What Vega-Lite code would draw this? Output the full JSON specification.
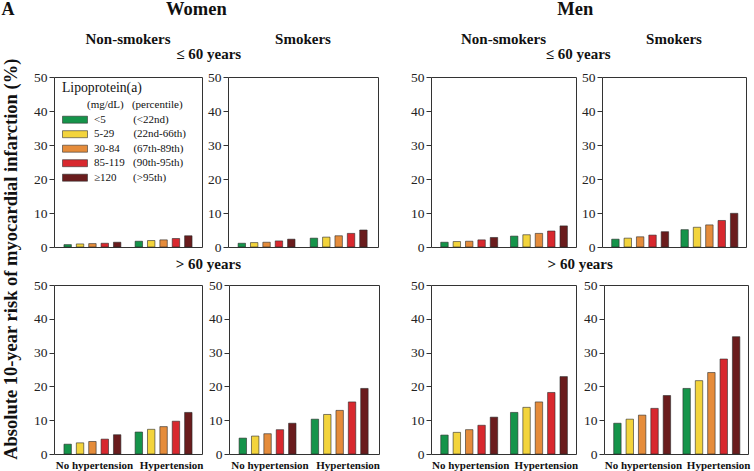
{
  "$schema": "https://vega.github.io/schema/vega-lite/v6.json",
  "padding": {"left": 1, "top": 0, "right": 0, "bottom": 1},
  "datasets": {
    "risk": [
      {"sex": "Women", "age": "le60", "smoker": "Non-smokers", "ht": "No hypertension", "lpa": "<5", "risk": 0.7},
      {"sex": "Women", "age": "le60", "smoker": "Non-smokers", "ht": "No hypertension", "lpa": "5-29", "risk": 0.9},
      {"sex": "Women", "age": "le60", "smoker": "Non-smokers", "ht": "No hypertension", "lpa": "30-84", "risk": 1.0},
      {"sex": "Women", "age": "le60", "smoker": "Non-smokers", "ht": "No hypertension", "lpa": "85-119", "risk": 1.1},
      {"sex": "Women", "age": "le60", "smoker": "Non-smokers", "ht": "No hypertension", "lpa": "≥120", "risk": 1.4},
      {"sex": "Women", "age": "le60", "smoker": "Non-smokers", "ht": "Hypertension", "lpa": "<5", "risk": 1.7},
      {"sex": "Women", "age": "le60", "smoker": "Non-smokers", "ht": "Hypertension", "lpa": "5-29", "risk": 1.9},
      {"sex": "Women", "age": "le60", "smoker": "Non-smokers", "ht": "Hypertension", "lpa": "30-84", "risk": 2.1},
      {"sex": "Women", "age": "le60", "smoker": "Non-smokers", "ht": "Hypertension", "lpa": "85-119", "risk": 2.5},
      {"sex": "Women", "age": "le60", "smoker": "Non-smokers", "ht": "Hypertension", "lpa": "≥120", "risk": 3.3},
      {"sex": "Women", "age": "le60", "smoker": "Smokers", "ht": "No hypertension", "lpa": "<5", "risk": 1.1},
      {"sex": "Women", "age": "le60", "smoker": "Smokers", "ht": "No hypertension", "lpa": "5-29", "risk": 1.3},
      {"sex": "Women", "age": "le60", "smoker": "Smokers", "ht": "No hypertension", "lpa": "30-84", "risk": 1.4},
      {"sex": "Women", "age": "le60", "smoker": "Smokers", "ht": "No hypertension", "lpa": "85-119", "risk": 1.8},
      {"sex": "Women", "age": "le60", "smoker": "Smokers", "ht": "No hypertension", "lpa": "≥120", "risk": 2.3},
      {"sex": "Women", "age": "le60", "smoker": "Smokers", "ht": "Hypertension", "lpa": "<5", "risk": 2.6},
      {"sex": "Women", "age": "le60", "smoker": "Smokers", "ht": "Hypertension", "lpa": "5-29", "risk": 2.9},
      {"sex": "Women", "age": "le60", "smoker": "Smokers", "ht": "Hypertension", "lpa": "30-84", "risk": 3.3},
      {"sex": "Women", "age": "le60", "smoker": "Smokers", "ht": "Hypertension", "lpa": "85-119", "risk": 4.0},
      {"sex": "Women", "age": "le60", "smoker": "Smokers", "ht": "Hypertension", "lpa": "≥120", "risk": 5.0},
      {"sex": "Women", "age": "gt60", "smoker": "Non-smokers", "ht": "No hypertension", "lpa": "<5", "risk": 2.9},
      {"sex": "Women", "age": "gt60", "smoker": "Non-smokers", "ht": "No hypertension", "lpa": "5-29", "risk": 3.3},
      {"sex": "Women", "age": "gt60", "smoker": "Non-smokers", "ht": "No hypertension", "lpa": "30-84", "risk": 3.7},
      {"sex": "Women", "age": "gt60", "smoker": "Non-smokers", "ht": "No hypertension", "lpa": "85-119", "risk": 4.4},
      {"sex": "Women", "age": "gt60", "smoker": "Non-smokers", "ht": "No hypertension", "lpa": "≥120", "risk": 5.7},
      {"sex": "Women", "age": "gt60", "smoker": "Non-smokers", "ht": "Hypertension", "lpa": "<5", "risk": 6.5},
      {"sex": "Women", "age": "gt60", "smoker": "Non-smokers", "ht": "Hypertension", "lpa": "5-29", "risk": 7.3},
      {"sex": "Women", "age": "gt60", "smoker": "Non-smokers", "ht": "Hypertension", "lpa": "30-84", "risk": 8.1},
      {"sex": "Women", "age": "gt60", "smoker": "Non-smokers", "ht": "Hypertension", "lpa": "85-119", "risk": 9.7},
      {"sex": "Women", "age": "gt60", "smoker": "Non-smokers", "ht": "Hypertension", "lpa": "≥120", "risk": 12.3},
      {"sex": "Women", "age": "gt60", "smoker": "Smokers", "ht": "No hypertension", "lpa": "<5", "risk": 4.7},
      {"sex": "Women", "age": "gt60", "smoker": "Smokers", "ht": "No hypertension", "lpa": "5-29", "risk": 5.3},
      {"sex": "Women", "age": "gt60", "smoker": "Smokers", "ht": "No hypertension", "lpa": "30-84", "risk": 6.0},
      {"sex": "Women", "age": "gt60", "smoker": "Smokers", "ht": "No hypertension", "lpa": "85-119", "risk": 7.2},
      {"sex": "Women", "age": "gt60", "smoker": "Smokers", "ht": "No hypertension", "lpa": "≥120", "risk": 9.1},
      {"sex": "Women", "age": "gt60", "smoker": "Smokers", "ht": "Hypertension", "lpa": "<5", "risk": 10.3},
      {"sex": "Women", "age": "gt60", "smoker": "Smokers", "ht": "Hypertension", "lpa": "5-29", "risk": 11.7},
      {"sex": "Women", "age": "gt60", "smoker": "Smokers", "ht": "Hypertension", "lpa": "30-84", "risk": 12.9},
      {"sex": "Women", "age": "gt60", "smoker": "Smokers", "ht": "Hypertension", "lpa": "85-119", "risk": 15.4},
      {"sex": "Women", "age": "gt60", "smoker": "Smokers", "ht": "Hypertension", "lpa": "≥120", "risk": 19.4},
      {"sex": "Men", "age": "le60", "smoker": "Non-smokers", "ht": "No hypertension", "lpa": "<5", "risk": 1.4},
      {"sex": "Men", "age": "le60", "smoker": "Non-smokers", "ht": "No hypertension", "lpa": "5-29", "risk": 1.6},
      {"sex": "Men", "age": "le60", "smoker": "Non-smokers", "ht": "No hypertension", "lpa": "30-84", "risk": 1.7},
      {"sex": "Men", "age": "le60", "smoker": "Non-smokers", "ht": "No hypertension", "lpa": "85-119", "risk": 2.1},
      {"sex": "Men", "age": "le60", "smoker": "Non-smokers", "ht": "No hypertension", "lpa": "≥120", "risk": 2.8},
      {"sex": "Men", "age": "le60", "smoker": "Non-smokers", "ht": "Hypertension", "lpa": "<5", "risk": 3.2},
      {"sex": "Men", "age": "le60", "smoker": "Non-smokers", "ht": "Hypertension", "lpa": "5-29", "risk": 3.6},
      {"sex": "Men", "age": "le60", "smoker": "Non-smokers", "ht": "Hypertension", "lpa": "30-84", "risk": 4.0},
      {"sex": "Men", "age": "le60", "smoker": "Non-smokers", "ht": "Hypertension", "lpa": "85-119", "risk": 4.7},
      {"sex": "Men", "age": "le60", "smoker": "Non-smokers", "ht": "Hypertension", "lpa": "≥120", "risk": 6.2},
      {"sex": "Men", "age": "le60", "smoker": "Smokers", "ht": "No hypertension", "lpa": "<5", "risk": 2.3},
      {"sex": "Men", "age": "le60", "smoker": "Smokers", "ht": "No hypertension", "lpa": "5-29", "risk": 2.6},
      {"sex": "Men", "age": "le60", "smoker": "Smokers", "ht": "No hypertension", "lpa": "30-84", "risk": 3.0},
      {"sex": "Men", "age": "le60", "smoker": "Smokers", "ht": "No hypertension", "lpa": "85-119", "risk": 3.5},
      {"sex": "Men", "age": "le60", "smoker": "Smokers", "ht": "No hypertension", "lpa": "≥120", "risk": 4.5},
      {"sex": "Men", "age": "le60", "smoker": "Smokers", "ht": "Hypertension", "lpa": "<5", "risk": 5.1},
      {"sex": "Men", "age": "le60", "smoker": "Smokers", "ht": "Hypertension", "lpa": "5-29", "risk": 5.8},
      {"sex": "Men", "age": "le60", "smoker": "Smokers", "ht": "Hypertension", "lpa": "30-84", "risk": 6.5},
      {"sex": "Men", "age": "le60", "smoker": "Smokers", "ht": "Hypertension", "lpa": "85-119", "risk": 7.8},
      {"sex": "Men", "age": "le60", "smoker": "Smokers", "ht": "Hypertension", "lpa": "≥120", "risk": 9.9},
      {"sex": "Men", "age": "gt60", "smoker": "Non-smokers", "ht": "No hypertension", "lpa": "<5", "risk": 5.6},
      {"sex": "Men", "age": "gt60", "smoker": "Non-smokers", "ht": "No hypertension", "lpa": "5-29", "risk": 6.4},
      {"sex": "Men", "age": "gt60", "smoker": "Non-smokers", "ht": "No hypertension", "lpa": "30-84", "risk": 7.2},
      {"sex": "Men", "age": "gt60", "smoker": "Non-smokers", "ht": "No hypertension", "lpa": "85-119", "risk": 8.5},
      {"sex": "Men", "age": "gt60", "smoker": "Non-smokers", "ht": "No hypertension", "lpa": "≥120", "risk": 10.9},
      {"sex": "Men", "age": "gt60", "smoker": "Non-smokers", "ht": "Hypertension", "lpa": "<5", "risk": 12.3},
      {"sex": "Men", "age": "gt60", "smoker": "Non-smokers", "ht": "Hypertension", "lpa": "5-29", "risk": 13.8},
      {"sex": "Men", "age": "gt60", "smoker": "Non-smokers", "ht": "Hypertension", "lpa": "30-84", "risk": 15.4},
      {"sex": "Men", "age": "gt60", "smoker": "Non-smokers", "ht": "Hypertension", "lpa": "85-119", "risk": 18.2},
      {"sex": "Men", "age": "gt60", "smoker": "Non-smokers", "ht": "Hypertension", "lpa": "≥120", "risk": 22.9},
      {"sex": "Men", "age": "gt60", "smoker": "Smokers", "ht": "No hypertension", "lpa": "<5", "risk": 9.1},
      {"sex": "Men", "age": "gt60", "smoker": "Smokers", "ht": "No hypertension", "lpa": "5-29", "risk": 10.3},
      {"sex": "Men", "age": "gt60", "smoker": "Smokers", "ht": "No hypertension", "lpa": "30-84", "risk": 11.5},
      {"sex": "Men", "age": "gt60", "smoker": "Smokers", "ht": "No hypertension", "lpa": "85-119", "risk": 13.5},
      {"sex": "Men", "age": "gt60", "smoker": "Smokers", "ht": "No hypertension", "lpa": "≥120", "risk": 17.3},
      {"sex": "Men", "age": "gt60", "smoker": "Smokers", "ht": "Hypertension", "lpa": "<5", "risk": 19.4},
      {"sex": "Men", "age": "gt60", "smoker": "Smokers", "ht": "Hypertension", "lpa": "5-29", "risk": 21.7},
      {"sex": "Men", "age": "gt60", "smoker": "Smokers", "ht": "Hypertension", "lpa": "30-84", "risk": 24.1},
      {"sex": "Men", "age": "gt60", "smoker": "Smokers", "ht": "Hypertension", "lpa": "85-119", "risk": 28.1},
      {"sex": "Men", "age": "gt60", "smoker": "Smokers", "ht": "Hypertension", "lpa": "≥120", "risk": 34.7}
    ]
  },
  "title": {"text": "A", "anchor": "start", "fontSize": 18, "offset": -19},
  "vconcat": [
    {
      "title": {"text": "Absolute 10-year risk of myocardial infarction (%)", "orient": "left", "anchor": "middle", "fontSize": 18.5, "offset": 13, "dx": -24},
      "spacing": 30,
      "hconcat": [
        {
          "title": {"text": "Women", "anchor": "middle", "fontSize": 18.5, "offset": 13, "dx": -10},
          "spacing": 2,
          "vconcat": [
            {
              "title": {"text": "≤ 60 years", "anchor": "middle", "fontSize": 15, "offset": -30, "dx": 3},
              "spacing": 4,
              "hconcat": [
                {
                  "width": 148, "height": 170,
                  "data": {"name": "risk"},
                  "transform": [{"filter": "datum.sex === 'Women' && datum.age === 'le60' && datum.smoker === 'Non-smokers'"}],
                  "title": {"text": "Non-smokers", "fontSize": 15, "offset": 23},
                  "mark": "bar",
                  "encoding": {
                    "x": {"field": "ht", "type": "nominal", "title": null, "scale": {"domain": ["No hypertension", "Hypertension"], "paddingInner": 0.2, "paddingOuter": 0.14}, "axis": null},
                    "xOffset": {"field": "lpa", "type": "nominal", "scale": {"domain": ["<5", "5-29", "30-84", "85-119", "≥120"], "paddingInner": 0.4, "paddingOuter": 0}},
                    "y": {"field": "risk", "type": "quantitative", "title": null, "scale": {"domain": [0, 50]}},
                    "color": {
                      "field": "lpa", "type": "nominal",
                      "scale": {"domain": ["hdr", "<5", "5-29", "30-84", "85-119", "≥120"], "range": ["rgba(0,0,0,0)", "#15944a", "#f3d43c", "#e58c3b", "#d8282e", "#6a1c1d"]},
                      "legend": {
                        "orient": "none", "legendX": 8, "legendY": 4,
                        "title": "Lipoprotein(a)", "titleFontSize": 13.7, "titleFontWeight": "normal", "titleColor": "#111", "titlePadding": 5,
                        "symbolType": "M-1,-0.7H4V0.7H-1Z", "symbolSize": 100, "symbolStrokeColor": "#333", "symbolStrokeWidth": 0.6, "symbolOpacity": 1,
                        "labelFontSize": 11, "labelOffset": 21, "labelColor": "#111", "rowPadding": 2.5,
                        "labelExpr": "datum.value === 'hdr' ? '(mg/dL)\u00a0\u00a0\u00a0(percentile)' : datum.value === '<5' ? '<5\u00a0\u00a0\u00a0\u00a0\u00a0\u00a0\u00a0\u00a0\u00a0\u00a0(<22nd)' : datum.value === '5-29' ? '5-29\u00a0\u00a0\u00a0\u00a0\u00a0\u00a0\u00a0(22nd-66th)' : datum.value === '30-84' ? '30-84\u00a0\u00a0\u00a0\u00a0\u00a0(67th-89th)' : datum.value === '85-119' ? '85-119\u00a0\u00a0\u00a0(90th-95th)' : '≥120\u00a0\u00a0\u00a0\u00a0\u00a0\u00a0(>95th)'",
                        "encoding": {
                          "symbols": {"strokeOpacity": {"condition": {"test": "datum.value === 'hdr'", "value": 0}, "value": 1}},
                          "labels": {"dx": {"condition": {"test": "datum.value === 'hdr'", "value": -7}, "value": 0}}
                        }
                      }
                    }
                  }
                },
                {
                  "width": 150, "height": 170,
                  "data": {"name": "risk"},
                  "transform": [{"filter": "datum.sex === 'Women' && datum.age === 'le60' && datum.smoker === 'Smokers'"}],
                  "title": {"text": "Smokers", "fontSize": 15, "offset": 23},
                  "mark": "bar",
                  "encoding": {
                    "x": {"field": "ht", "type": "nominal", "title": null, "scale": {"domain": ["No hypertension", "Hypertension"], "paddingInner": 0.2, "paddingOuter": 0.14}, "axis": null},
                    "xOffset": {"field": "lpa", "type": "nominal", "scale": {"domain": ["<5", "5-29", "30-84", "85-119", "≥120"], "paddingInner": 0.4, "paddingOuter": 0}},
                    "y": {"field": "risk", "type": "quantitative", "title": null, "scale": {"domain": [0, 50]}},
                    "color": {"field": "lpa", "type": "nominal", "scale": {"domain": ["<5", "5-29", "30-84", "85-119", "≥120"], "range": ["#15944a", "#f3d43c", "#e58c3b", "#d8282e", "#6a1c1d"]}, "legend": null}
                  }
                }
              ],
              "resolve": {"scale": {"color": "independent"}, "legend": {"color": "independent"}}
            },
            {
              "title": {"text": "> 60 years", "anchor": "middle", "fontSize": 15, "offset": 6, "dx": 2},
              "spacing": 4,
              "hconcat": [
                {
                  "width": 148, "height": 169,
                  "data": {"name": "risk"},
                  "transform": [{"filter": "datum.sex === 'Women' && datum.age === 'gt60' && datum.smoker === 'Non-smokers'"}],
                  "mark": "bar",
                  "encoding": {
                    "x": {"field": "ht", "type": "nominal", "title": null, "scale": {"domain": ["No hypertension", "Hypertension"], "paddingInner": 0.2, "paddingOuter": 0.14}},
                    "xOffset": {"field": "lpa", "type": "nominal", "scale": {"domain": ["<5", "5-29", "30-84", "85-119", "≥120"], "paddingInner": 0.4, "paddingOuter": 0}},
                    "y": {"field": "risk", "type": "quantitative", "title": null, "scale": {"domain": [0, 50]}},
                    "color": {"field": "lpa", "type": "nominal", "scale": {"domain": ["<5", "5-29", "30-84", "85-119", "≥120"], "range": ["#15944a", "#f3d43c", "#e58c3b", "#d8282e", "#6a1c1d"]}, "legend": null}
                  }
                },
                {
                  "width": 150, "height": 169,
                  "data": {"name": "risk"},
                  "transform": [{"filter": "datum.sex === 'Women' && datum.age === 'gt60' && datum.smoker === 'Smokers'"}],
                  "mark": "bar",
                  "encoding": {
                    "x": {"field": "ht", "type": "nominal", "title": null, "scale": {"domain": ["No hypertension", "Hypertension"], "paddingInner": 0.2, "paddingOuter": 0.14}},
                    "xOffset": {"field": "lpa", "type": "nominal", "scale": {"domain": ["<5", "5-29", "30-84", "85-119", "≥120"], "paddingInner": 0.4, "paddingOuter": 0}},
                    "y": {"field": "risk", "type": "quantitative", "title": null, "scale": {"domain": [0, 50]}},
                    "color": {"field": "lpa", "type": "nominal", "scale": {"domain": ["<5", "5-29", "30-84", "85-119", "≥120"], "range": ["#15944a", "#f3d43c", "#e58c3b", "#d8282e", "#6a1c1d"]}, "legend": null}
                  }
                }
              ],
              "resolve": {"scale": {"color": "independent"}, "legend": {"color": "independent"}}
            }
          ],
          "resolve": {"scale": {"color": "independent"}, "legend": {"color": "independent"}}
        },
        {
          "title": {"text": "Men", "anchor": "middle", "fontSize": 18.5, "offset": 13, "dx": -5},
          "spacing": 2,
          "vconcat": [
            {
              "title": {"text": "≤ 60 years", "anchor": "middle", "fontSize": 15, "offset": -30},
              "spacing": 4,
              "hconcat": [
                {
                  "width": 145, "height": 170,
                  "data": {"name": "risk"},
                  "transform": [{"filter": "datum.sex === 'Men' && datum.age === 'le60' && datum.smoker === 'Non-smokers'"}],
                  "title": {"text": "Non-smokers", "fontSize": 15, "offset": 23},
                  "mark": "bar",
                  "encoding": {
                    "x": {"field": "ht", "type": "nominal", "title": null, "scale": {"domain": ["No hypertension", "Hypertension"], "paddingInner": 0.2, "paddingOuter": 0.14}, "axis": null},
                    "xOffset": {"field": "lpa", "type": "nominal", "scale": {"domain": ["<5", "5-29", "30-84", "85-119", "≥120"], "paddingInner": 0.4, "paddingOuter": 0}},
                    "y": {"field": "risk", "type": "quantitative", "title": null, "scale": {"domain": [0, 50]}},
                    "color": {"field": "lpa", "type": "nominal", "scale": {"domain": ["<5", "5-29", "30-84", "85-119", "≥120"], "range": ["#15944a", "#f3d43c", "#e58c3b", "#d8282e", "#6a1c1d"]}, "legend": null}
                  }
                },
                {
                  "width": 144, "height": 170,
                  "data": {"name": "risk"},
                  "transform": [{"filter": "datum.sex === 'Men' && datum.age === 'le60' && datum.smoker === 'Smokers'"}],
                  "title": {"text": "Smokers", "fontSize": 15, "offset": 23},
                  "mark": "bar",
                  "encoding": {
                    "x": {"field": "ht", "type": "nominal", "title": null, "scale": {"domain": ["No hypertension", "Hypertension"], "paddingInner": 0.2, "paddingOuter": 0.14}, "axis": null},
                    "xOffset": {"field": "lpa", "type": "nominal", "scale": {"domain": ["<5", "5-29", "30-84", "85-119", "≥120"], "paddingInner": 0.4, "paddingOuter": 0}},
                    "y": {"field": "risk", "type": "quantitative", "title": null, "scale": {"domain": [0, 50]}},
                    "color": {"field": "lpa", "type": "nominal", "scale": {"domain": ["<5", "5-29", "30-84", "85-119", "≥120"], "range": ["#15944a", "#f3d43c", "#e58c3b", "#d8282e", "#6a1c1d"]}, "legend": null}
                  }
                }
              ],
              "resolve": {"scale": {"color": "independent"}, "legend": {"color": "independent"}}
            },
            {
              "title": {"text": "> 60 years", "anchor": "middle", "fontSize": 15, "offset": 6},
              "spacing": 4,
              "hconcat": [
                {
                  "width": 145, "height": 169,
                  "data": {"name": "risk"},
                  "transform": [{"filter": "datum.sex === 'Men' && datum.age === 'gt60' && datum.smoker === 'Non-smokers'"}],
                  "mark": "bar",
                  "encoding": {
                    "x": {"field": "ht", "type": "nominal", "title": null, "scale": {"domain": ["No hypertension", "Hypertension"], "paddingInner": 0.2, "paddingOuter": 0.14}},
                    "xOffset": {"field": "lpa", "type": "nominal", "scale": {"domain": ["<5", "5-29", "30-84", "85-119", "≥120"], "paddingInner": 0.4, "paddingOuter": 0}},
                    "y": {"field": "risk", "type": "quantitative", "title": null, "scale": {"domain": [0, 50]}},
                    "color": {"field": "lpa", "type": "nominal", "scale": {"domain": ["<5", "5-29", "30-84", "85-119", "≥120"], "range": ["#15944a", "#f3d43c", "#e58c3b", "#d8282e", "#6a1c1d"]}, "legend": null}
                  }
                },
                {
                  "width": 144, "height": 169,
                  "data": {"name": "risk"},
                  "transform": [{"filter": "datum.sex === 'Men' && datum.age === 'gt60' && datum.smoker === 'Smokers'"}],
                  "mark": "bar",
                  "encoding": {
                    "x": {"field": "ht", "type": "nominal", "title": null, "scale": {"domain": ["No hypertension", "Hypertension"], "paddingInner": 0.2, "paddingOuter": 0.14}},
                    "xOffset": {"field": "lpa", "type": "nominal", "scale": {"domain": ["<5", "5-29", "30-84", "85-119", "≥120"], "paddingInner": 0.4, "paddingOuter": 0}},
                    "y": {"field": "risk", "type": "quantitative", "title": null, "scale": {"domain": [0, 50]}},
                    "color": {"field": "lpa", "type": "nominal", "scale": {"domain": ["<5", "5-29", "30-84", "85-119", "≥120"], "range": ["#15944a", "#f3d43c", "#e58c3b", "#d8282e", "#6a1c1d"]}, "legend": null}
                  }
                }
              ],
              "resolve": {"scale": {"color": "independent"}, "legend": {"color": "independent"}}
            }
          ],
          "resolve": {"scale": {"color": "independent"}, "legend": {"color": "independent"}}
        }
      ],
      "resolve": {"scale": {"color": "independent"}, "legend": {"color": "independent"}}
    }
  ],
  "resolve": {"scale": {"color": "independent"}, "legend": {"color": "independent"}},
  "config": {
    "font": "Liberation Serif",
    "view": {"stroke": "#333", "strokeWidth": 1},
    "title": {"font": "Liberation Serif", "fontWeight": "bold", "fontSize": 15, "color": "#111"},
    "bar": {"stroke": "#2a2a2a", "strokeWidth": 0.6},
    "axis": {"grid": false, "labelFont": "Liberation Serif", "labelColor": "#222", "tickColor": "#333", "domainColor": "#333"},
    "axisY": {"domain": false, "tickSize": 5, "tickCount": 5, "labelFontSize": 13.5, "labelPadding": 2},
    "axisX": {
      "ticks": false, "domain": false, "labelAngle": 0, "labelFontWeight": "bold", "labelFontSize": 11, "labelPadding": 5, "labelColor": "#111", "labelOverlap": false,
      "labelOffset": {"condition": {"test": "datum.value === 'Hypertension'", "value": 8}, "value": 2}
    },
    "legend": {"labelFont": "Liberation Serif", "titleFont": "Liberation Serif"}
  }
}
